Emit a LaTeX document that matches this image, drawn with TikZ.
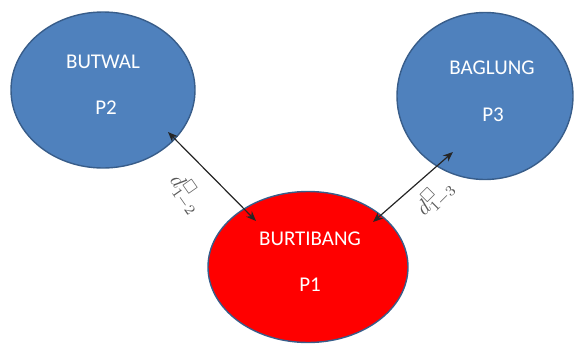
\documentclass[tikz,border=0pt]{standalone}
\usepackage{fontspec}
\setmainfont{Carlito}
\usepackage{amssymb}
\usetikzlibrary{shapes.geometric,arrows.meta}
\definecolor{cityblue}{HTML}{4F81BD}
\definecolor{cityedge}{HTML}{385D8A}
\definecolor{cityred}{HTML}{FF0000}
\tikzset{
  city/.style={ellipse, draw=cityedge, line width=1.4pt, inner sep=0pt},
  citytext/.style={text=white, font=\fontsize{21}{24}\selectfont, inner sep=0pt, anchor=center},
  link/.style={draw=black!85, line width=1.2pt, {Stealth[length=10pt,width=8pt]}-{Stealth[length=10pt,width=8pt]}},
  dist/.style={text=black!65, inner sep=0pt, scale=2.1}
}
\begin{document}
\begin{tikzpicture}[x=1pt,y=-1pt]
  \useasboundingbox (0,0) rectangle (576,346);

  % towns
  \node[city, fill=cityblue, minimum width=184pt, minimum height=156pt] (p2) at (103,90) {};
  \node[city, fill=cityblue, minimum width=176pt, minimum height=167pt] (p3) at (485,96) {};
  \node[city, fill=cityred, minimum width=200pt, minimum height=151pt] (p1) at (308,267) {};

  % names and labels
  \node[citytext] (n2) at (103,62) {BUTWAL};
  \node[citytext] (l2) at (106,108) {P2};
  \node[citytext] (n3) at (492,68) {BAGLUNG};
  \node[citytext] (l3) at (493,115) {P3};
  \node[citytext] (n1) at (310,239) {BURTIBANG};
  \node[citytext] (l1) at (310,285) {P1};

  % arrow end points inside the ellipses
  \coordinate (a2) at (168,132);
  \coordinate (a12) at (256,221);
  \coordinate (a3) at (453,152);
  \coordinate (a13) at (373,222);

  \draw[link] (a2) -- (a12);
  \draw[link] (a3) -- (a13);

  % distance labels
  \node[dist, rotate=-55] (d12) at (186,194) {$d^{\square}_{1-2}$};
  \node[dist, rotate=45] (d13) at (435,198) {$d^{\square}_{1-3}$};
\end{tikzpicture}
\end{document}
